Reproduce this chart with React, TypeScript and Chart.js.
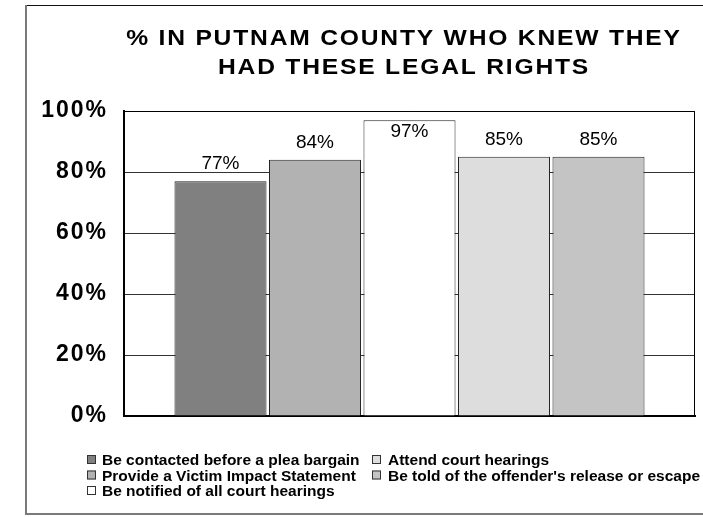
import React, { useEffect, useRef } from "react";
import { Chart, registerables } from "chart.js";

Chart.register(...registerables);

const titleLines = ["% IN PUTNAM COUNTY WHO KNEW THEY", "HAD THESE LEGAL RIGHTS"];
const categories = [""];
const seriesLabels = [
  "Be contacted before a plea bargain",
  "Provide a Victim Impact Statement",
  "Be notified of all court hearings",
  "Attend court hearings",
  "Be told of the offender's release or escape",
];
const seriesValues = [77, 84, 97, 85, 85];
const seriesColors = ["#808080", "#b2b2b2", "#ffffff", "#dddddd", "#c4c4c4"];
const yTicks = [0, 20, 40, 60, 80, 100];

const FONT = "'Liberation Sans', Arial, Helvetica, sans-serif";

export default function App() {
  const ref = useRef<HTMLCanvasElement | null>(null);

  useEffect(() => {
    const canvas = ref.current;
    if (!canvas) return;

    const framePlugin = {
      id: "frame",
      beforeDraw(chart: any) {
        const ctx = chart.ctx;
        ctx.save();
        ctx.fillStyle = "#ffffff";
        ctx.fillRect(0, 0, chart.width, chart.height);
        // outer frame
        ctx.strokeStyle = "#111111";
        ctx.lineWidth = 1;
        ctx.beginPath();
        ctx.moveTo(25, 5.5);
        ctx.lineTo(chart.width, 5.5);
        ctx.stroke();
        ctx.strokeStyle = "#7a7a7a";
        ctx.lineWidth = 2;
        ctx.beginPath();
        ctx.moveTo(26, 5);
        ctx.lineTo(26, 514);
        ctx.moveTo(25, 514);
        ctx.lineTo(chart.width, 514);
        ctx.stroke();
        // title
        ctx.fillStyle = "#000";
        ctx.font = `bold 22px ${FONT}`;
        (ctx as any).letterSpacing = "1.6px";
        ctx.textAlign = "center";
        ctx.textBaseline = "middle";
        const centers = [
          [404, 39],
          [404, 68],
        ];
        titleLines.forEach((t, i) => {
          ctx.save();
          ctx.translate(centers[i][0], centers[i][1]);
          ctx.scale(1.12, 1);
          ctx.fillText(t, 0, 0);
          ctx.restore();
        });
        ctx.restore();
        (ctx as any).letterSpacing = "2px";
      },
      afterDraw(chart: any) {
        const ctx = chart.ctx;
        (ctx as any).letterSpacing = "0px";
        ctx.save();
        const a = chart.chartArea;
        ctx.strokeStyle = "#000";
        ctx.lineWidth = 1;
        ctx.beginPath();
        ctx.moveTo(a.left, a.top + 0.5);
        ctx.lineTo(a.right - 0.5, a.top + 0.5);
        ctx.lineTo(a.right - 0.5, a.bottom);
        ctx.stroke();
        // legend
        const items = chart.data.datasets.map((d: any) => ({ label: d.label, color: d.backgroundColor }));
        const pos = [
          [87, 102, 460],
          [87, 102, 475.5],
          [87, 102, 491],
          [372, 388, 460],
          [372, 388, 475.5],
        ];
        ctx.font = `bold 15.5px ${FONT}`;
        ctx.textAlign = "left";
        ctx.textBaseline = "middle";
        items.forEach((it: any, i: number) => {
          const [sx, tx, cy] = pos[i];
          ctx.fillStyle = it.color;
          ctx.fillRect(sx, cy - 5, 9, 9);
          ctx.strokeStyle = "#333";
          ctx.lineWidth = 1;
          ctx.strokeRect(sx + 0.5, cy - 4.5, 8, 8);
          ctx.fillStyle = "#000";
          ctx.fillText(it.label, tx, cy + 1);
        });
        ctx.restore();
      },
    };

    const labelPlugin = {
      id: "barLabels",
      afterDatasetsDraw(chart: any) {
        const ctx = chart.ctx;
        const prev = (ctx as any).letterSpacing;
        (ctx as any).letterSpacing = "0px";
        ctx.save();
        ctx.font = `19px ${FONT}`;
        ctx.fillStyle = "#000";
        ctx.textAlign = "center";
        ctx.textBaseline = "middle";
        const top = chart.chartArea.top;
        chart.data.datasets.forEach((ds: any, i: number) => {
          const meta = chart.getDatasetMeta(i);
          meta.data.forEach((el: any, j: number) => {
            let cy = el.y - 17;
            if (cy - 9 < top) cy = el.y + 12;
            ctx.fillText(`${ds.data[j]}%`, el.x, cy);
          });
        });
        ctx.restore();
        (ctx as any).letterSpacing = prev;
      },
    };

    const chart = new Chart(canvas, {
      type: "bar",
      data: {
        labels: categories,
        datasets: seriesLabels.map((label, i) => ({
          label,
          data: [seriesValues[i]],
          backgroundColor: seriesColors[i],
          borderColor: "#222",
          borderWidth: 1,
          categoryPercentage: 0.8275,
          barPercentage: 0.974,
        })),
      },
      options: {
        responsive: false,
        animation: false,
        layout: { padding: { left: 0, right: 8, top: 111, bottom: 101 } },
        plugins: {
          legend: { display: false },
          title: { display: false },
          tooltip: { enabled: false },
        },
        scales: {
          x: {
            grid: { display: false, drawTicks: false },
            ticks: { display: false },
            border: { display: true, color: "#000", width: 2 },
            afterFit: (s: any) => {
              s.height = 0;
            },
          },
          y: {
            min: 0,
            max: 100,
            afterBuildTicks: (s: any) => {
              s.ticks = yTicks.map((v) => ({ value: v }));
            },
            ticks: {
              callback: (v: any) => `${v}%`,
              color: "#000",
              font: { family: FONT, size: 23, weight: "bold" },
              padding: 16,
            },
            grid: { color: "#333", lineWidth: 1, drawTicks: false },
            border: { display: true, color: "#000", width: 2 },
            afterFit: (s: any) => {
              s.width = 124;
            },
          },
        },
      },
      plugins: [framePlugin, labelPlugin],
    });

    return () => chart.destroy();
  }, []);

  return (
    <div style={{ position: "absolute", left: 0, top: 0, width: 703, height: 517 }}>
      <canvas ref={ref} width={703} height={517} style={{ display: "block" }} />
    </div>
  );
}
